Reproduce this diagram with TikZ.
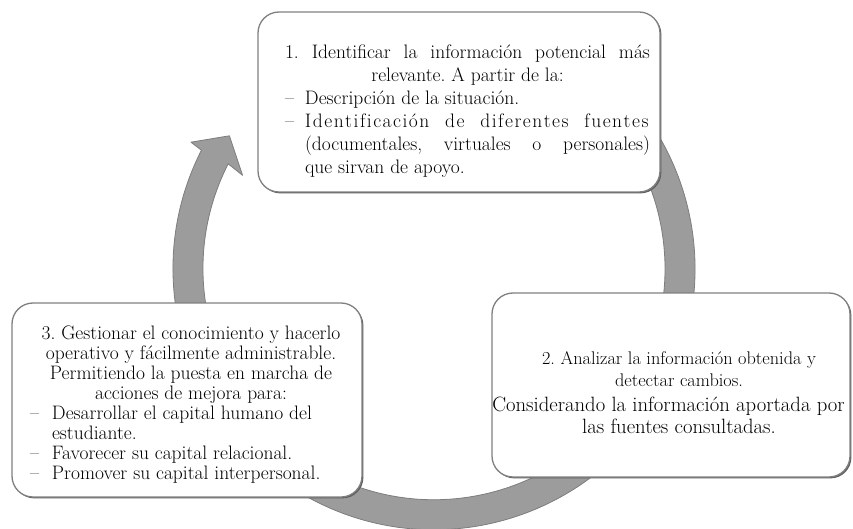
\documentclass[tikz,border=0pt]{standalone}
\usetikzlibrary{shadows}
\frenchspacing
\definecolor{ringfill}{RGB}{156,156,156}
\definecolor{ringedge}{RGB}{125,125,125}
\definecolor{boxedge}{RGB}{128,128,128}
\definecolor{boxshadow}{RGB}{95,95,95}
\tikzset{
  ringstyle/.style={fill=ringfill, draw=ringedge, line width=0.8pt, line join=round},
  stagebox/.style={draw=boxedge, line width=1.3pt, fill=white, rounded corners=21pt,
    general shadow={fill=boxshadow, shadow xshift=1.4pt, shadow yshift=-1.4pt}},
  stagetext/.style={inner sep=0pt, anchor=center}
}
\newcommand{\dashitem}[1]{\hangindent=#1\hangafter=1\noindent\makebox[#1][l]{–}}
\def\lsloop#1{\ifx#1\relax\else#1\kern1.5pt\relax\expandafter\lsloop\fi}
\newcommand{\spacedword}[1]{\lsloop#1\relax}
\begin{document}
\begin{tikzpicture}[x=1pt,y=1pt]
\useasboundingbox (0,0) rectangle (853,528);
\fill[white] (0,0) rectangle (853,528);
\coordinate (C) at (434,259.3);
% circular arrow
\filldraw[ringstyle]
  ([shift={(C)}]60:261) arc[start angle=60, end angle=-207, radius=261]
  -- ([shift={(C)}]-207.5:274)
  -- ([shift={(C)}]-213:244)
  -- ([shift={(C)}]-206:213)
  -- ([shift={(C)}]-207:231)
  arc[start angle=-207, end angle=60, radius=231] -- cycle;
% boxes
\node[stagebox, minimum width=402pt, minimum height=180pt] (b1) at (459,426) {};
\node[stagebox, minimum width=350pt, minimum height=194pt] (b3) at (187,128) {};
\node[stagebox, minimum width=358pt, minimum height=184pt] (b2) at (671,143) {};
% texts
\node[stagetext] (t1) at (467.5,417) {\begin{minipage}{365pt}\fontsize{19.5}{23}\selectfont
\makebox[\linewidth][s]{1. Identificar la información potencial más}\par
{\centering relevante. A partir de la:\par}
\dashitem{20pt}Descripción de la situación.\par
\dashitem{20pt}\spacedword{Identificación} \spacedword{de} \spacedword{diferentes} \spacedword{fuentes}\linebreak
(documentales, virtuales o personales)\linebreak
que sirvan de apoyo.\par
\end{minipage}};
\node[stagetext] (t3) at (191,123.5) {\begin{minipage}{322pt}\fontsize{19.5}{20}\selectfont
{\centering 3. Gestionar el conocimiento y hacerlo\\ operativo y fácilmente administrable.\\ Permitiendo la puesta en marcha de\\ acciones de mejora para:\par}
{\raggedright
\dashitem{22pt}Desarrollar el capital humano del\newline estudiante.\par
\dashitem{22pt}Favorecer su capital relacional.\par
\dashitem{22pt}Promover su capital interpersonal.\par}
\end{minipage}};
\node[stagetext] (t2) at (679,135.5) {\begin{minipage}{340pt}\centering\fontsize{18.3}{22}\selectfont
2. Analizar la información obtenida y\\ detectar cambios.\\[3pt]
\fontsize{20.7}{22}\selectfont\makebox[0pt]{\hspace*{-21pt}Considerando la información aportada por}\\ las fuentes consultadas.
\end{minipage}};
\end{tikzpicture}
\end{document}
